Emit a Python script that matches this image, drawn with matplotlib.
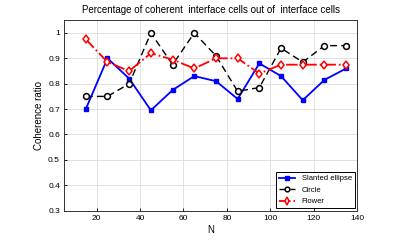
import matplotlib
matplotlib.use("Agg")
import matplotlib.pyplot as plt

# data
n_values = [15, 25, 35, 45, 55, 65, 75, 85, 95, 105, 115, 125, 135]
slanted_ellipse = [0.70, 0.90, 0.82, 0.695, 0.775, 0.83, 0.81, 0.74, 0.88, 0.83, 0.735, 0.815, 0.86]
circle = [0.75, 0.75, 0.80, 1.0, 0.875, 1.0, 0.91, 0.77, 0.785, 0.94, 0.885, 0.95, 0.95]
flower = [0.975, 0.885, 0.85, 0.92, 0.895, 0.86, 0.90, 0.90, 0.84, 0.875, 0.875, 0.875, 0.875]

x_ticks = [20, 40, 60, 80, 100, 120, 140]
y_ticks = [0.3, 0.4, 0.5, 0.6, 0.7, 0.8, 0.9, 1.0]
y_tick_labels = ["0.3", "0.4", "0.5", "0.6", "0.7", "0.8", "0.9", "1"]

plt.rcParams['font.family'] = ['Liberation Sans', 'DejaVu Sans']

fig = plt.figure(figsize=(4.19, 2.41), dpi=100)
ax = fig.add_axes([0.153, 0.126, 0.699, 0.790])

ax.plot(n_values, slanted_ellipse, color="blue", linestyle="-", linewidth=1.3,
        marker="s", markersize=3.2, markerfacecolor="blue", label="Slanted ellipse")
ax.plot(n_values, circle, color="black", linestyle=(0, (5, 3)), linewidth=1.0,
        marker="o", markersize=4.2, markerfacecolor="white", markeredgewidth=1.1, label="Circle")
ax.plot(n_values, flower, color="red", linestyle="-.", linewidth=1.3,
        marker="d", markersize=4.5, markerfacecolor="white", markeredgewidth=1.1, label="Flower")

ax.set_xlim(5, 140)
ax.set_ylim(0.3, 1.05)
ax.set_xticks(x_ticks)
ax.set_yticks(y_ticks)
ax.set_yticklabels(y_tick_labels)
ax.tick_params(direction="in", labelsize=6, length=2.5, width=0.6, pad=3)
ax.grid(True, color="#dddddd", linewidth=0.6)
ax.set_axisbelow(True)
for spine in ax.spines.values():
    spine.set_linewidth(0.7)
    spine.set_color("#333333")

ax.set_xlabel("N", fontsize=7, labelpad=2)
ax.set_ylabel("Coherence ratio", fontsize=7, labelpad=3)
ax.set_title("Percentage of coherent  interface cells out of  interface cells", fontsize=7, pad=5)

leg = ax.legend(loc="lower right", fontsize=5.5, fancybox=False, framealpha=1,
                edgecolor="black", handlelength=2.2, borderaxespad=0.3, labelspacing=0.55,
                markerscale=0.8)
leg.get_frame().set_linewidth(0.7)

fig.savefig("out.png", dpi=100)
